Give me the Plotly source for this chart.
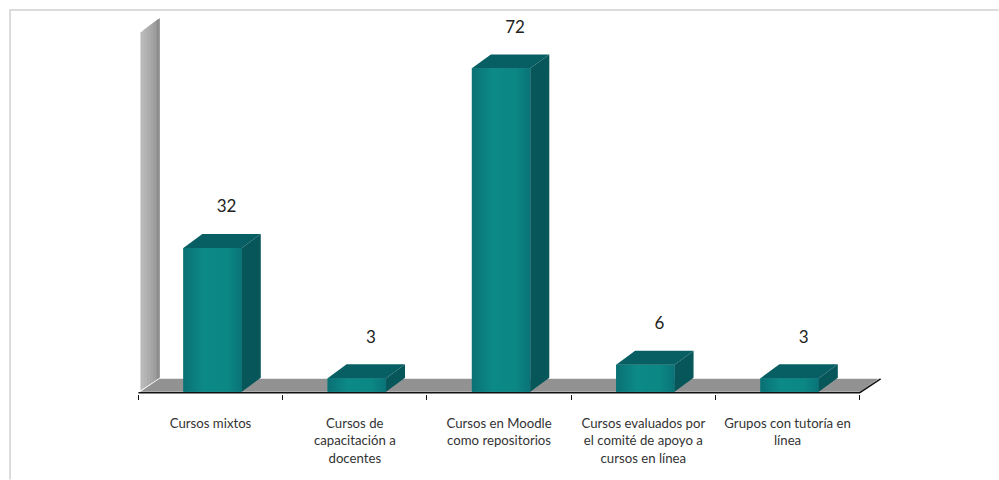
import plotly.graph_objects as go

categories = ["Cursos mixtos", "Cursos de<br>capacitación a<br>docentes", "Cursos en Moodle<br>como repositorios",
              "Cursos evaluados por<br>el comité de apoyo a<br>cursos en línea", "Grupos con tutoría en<br>línea"]
values = [32, 3, 72, 6, 3]
tick_edges = [0, 1, 2, 3, 4, 5]
label_centres = [0.5, 1.5, 2.5, 3.5, 4.5]
axis_top = 80

PX_X, PX_Y = 144.4, 4.5
DX, DY = 19 / PX_X, 14 / PX_Y
FLOOR_DY = 13 / PX_Y
BAR_W = 0.405
BAR_SHIFT = 0.014
LABEL_GAP = 8.9
LABEL_DX = 26 / PX_X
BASE = 392
X0 = 138
XMIN, XMAX, YMIN, YMAX = -0.1, 5.3, -0.5, 87

ML = X0 + XMIN * PX_X
MR = 999 - (X0 + XMAX * PX_X)
MT = BASE - YMAX * PX_Y
MB = 480 - BASE - 0.5 * PX_Y
PLOT_W = 999 - ML - MR
PLOT_H = 480 - MT - MB

fig = go.Figure()
shapes = []

# grey wall: each strip runs to the back edge, so no seams show
wall_cols = ["#bababa", "#b4b4b4", "#adadad", "#a6a6a6", "#9e9e9e", "#8e8e8e"]
n = len(wall_cols)
for i, c in enumerate(wall_cols):
    f0 = i / n
    xa, xb = 0.014 + DX * f0, 0.014 + DX
    ya0, yb0 = 0.3 + FLOOR_DY * f0, 0.3 + FLOOR_DY
    ya1, yb1 = axis_top + DY * f0, axis_top + DY
    shapes.append(dict(type="path", layer="below", xref="x", yref="y", line=dict(width=0), fillcolor=c,
                       path=f"M{xa},{ya0} L{xb},{yb0} L{xb},{yb1} L{xa},{ya1} Z"))
# grey floor
shapes.append(dict(type="path", layer="below", xref="x", yref="y", line=dict(width=0), fillcolor="#929292",
                   path=f"M{0.014},{0.0} L{0.014+DX},{FLOOR_DY} L{5+DX},{FLOOR_DY} L{5},{0.0} Z"))

# page frame: left and top edges only
fx0 = (9.5 - ML) / PLOT_W
fx1 = (999 - ML) / PLOT_W
fy0 = 1 - (480 - MT) / PLOT_H
fy1 = 1 - (9.5 - MT) / PLOT_H
shapes.append(dict(type="path", layer="below", xref="paper", yref="paper", line=dict(width=1.5, color="#d0d0d0"),
                   path=f"M{fx0},{fy0} L{fx0},{fy1} L{fx1},{fy1}"))

fig.add_trace(go.Bar(x=[c + BAR_SHIFT for c in label_centres], y=values, width=BAR_W,
                     marker=dict(color="#0b8581", line=dict(width=0)), showlegend=False, hoverinfo="skip"))

for c, v in zip(label_centres, values):
    l, r = c + BAR_SHIFT - BAR_W / 2, c + BAR_SHIFT + BAR_W / 2
    # gradient over the front
    fig.add_trace(go.Scatter(x=[l, r, r, l, l], y=[0, 0, v, v, 0], mode="none", fill="toself", hoverinfo="skip",
                             showlegend=False,
                             fillgradient=dict(type="horizontal", colorscale=[[0, "#0a7074"], [0.35, "#0c8a88"], [0.75, "#0b8784"], [1, "#0a7378"]])))
    # top face
    fig.add_trace(go.Scatter(x=[l, r, r + DX, l + DX, l], y=[v, v, v + DY, v + DY, v], mode="none", fill="toself",
                             fillcolor="#085f63", hoverinfo="skip", showlegend=False))
    # side face
    fig.add_trace(go.Scatter(x=[r, r + DX, r + DX, r, r], y=[0, DY, v + DY, v, 0], mode="none", fill="toself",
                             fillcolor="#06565a", hoverinfo="skip", showlegend=False))

# baseline and end diagonal
fig.add_trace(go.Scatter(x=[tick_edges[0], tick_edges[-1], tick_edges[-1] + DX * 1.1],
                         y=[-0.2, -0.2, FLOOR_DY], mode="lines", line=dict(color="#111111", width=1.5),
                         hoverinfo="skip", showlegend=False))

# value labels
fig.add_trace(go.Scatter(x=[c + BAR_SHIFT + LABEL_DX / 2 + 1 / PX_X for c in label_centres], y=[v + LABEL_GAP for v in values],
                         mode="text", text=[str(v) for v in values], textposition="middle center",
                         textfont=dict(family="Lato", size=17, color="#222222"), hoverinfo="skip", showlegend=False))

fig.update_layout(
    width=999, height=480, autosize=False, paper_bgcolor="white", plot_bgcolor="white",
    margin=dict(l=ML, r=MR, t=MT, b=MB, pad=0),
    shapes=shapes, showlegend=False,
    xaxis=dict(range=[XMIN, XMAX], tickmode="array", tickvals=label_centres, ticktext=categories,
               ticks="", showgrid=False, zeroline=False, showline=False,
               tickfont=dict(family="Lato", size=13.2, color="#333333"), ticklabelstandoff=20, tickangle=0,
               minor=dict(tickmode="array", tickvals=tick_edges, ticks="outside", ticklen=5, tickcolor="#111111", showgrid=False)),
    yaxis=dict(range=[YMIN, YMAX], visible=False),
)
fig.write_html("out.html", post_script="document.body.style.margin='0';", config={"displayModeBar": False})
